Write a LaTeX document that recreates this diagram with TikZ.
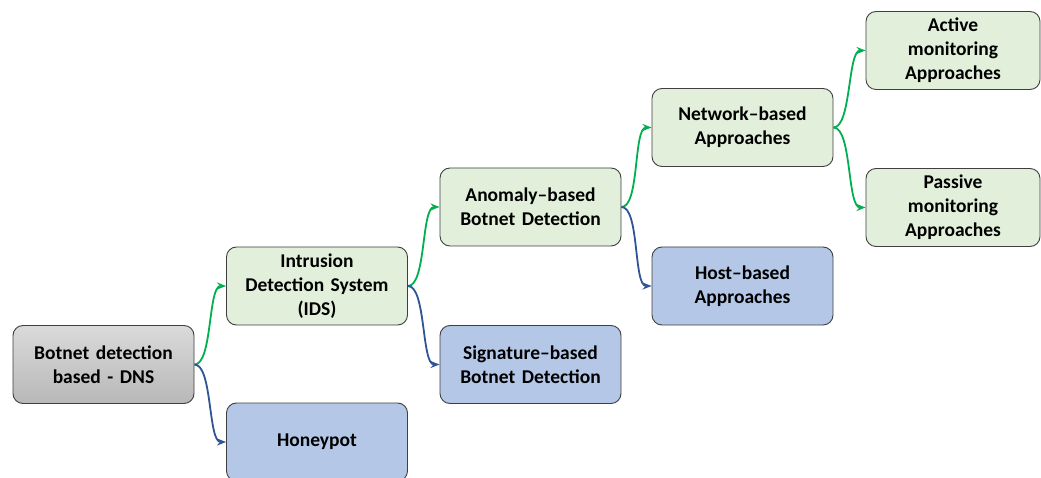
\documentclass[tikz,border=0pt]{standalone}
\usepackage{fontspec}
\setmainfont{Carlito}
\usetikzlibrary{arrows.meta}
\definecolor{boxline}{HTML}{3F3F3F}
\definecolor{greenfill}{HTML}{E2EFDA}
\definecolor{bluefill}{HTML}{B4C7E7}
\definecolor{greyTop}{HTML}{DADADA}
\definecolor{greyBot}{HTML}{B8B8B8}
\definecolor{greenarrow}{HTML}{00B050}
\definecolor{bluearrow}{HTML}{2F5597}
\tikzset{
  box/.style={draw=boxline, line width=0.9pt, rounded corners=10pt,
    minimum width=181pt, minimum height=78pt, align=center,
    font=\fontsize{19.5}{24}\selectfont\bfseries, text width=175pt, inner sep=0pt},
  greenbox/.style={box, fill=greenfill},
  bluebox/.style={box, fill=bluefill},
  greybox/.style={box, top color=greyTop, bottom color=greyBot},
  link/.style={line width=1.8pt, -{Stealth[length=9pt,width=7pt]}, out=0, in=180, looseness=0.55},
  yes/.style={link, draw=greenarrow},
  no/.style={link, draw=bluearrow}
}
\begin{document}
\begin{tikzpicture}[x=1pt,y=-1pt]
\useasboundingbox (0,0) rectangle (1041,478);
\clip (0,0) rectangle (1041,478);
\fill[white] (0,0) rectangle (1041,478);

\node[greybox]  (dns)  at (103.5,364.5) {Botnet detection\\based - DNS};
\node[greenbox] (ids)  at (317,286)     {Intrusion\\Detection System\\(IDS)};
\node[bluebox]  (hp)   at (317,442)     {Honeypot};
\node[greenbox] (anom) at (530.5,207)   {Anomaly--based\\Botnet Detection};
\node[bluebox]  (sig)  at (530.5,364.5) {Signature--based\\Botnet Detection};
\node[greenbox] (net)  at (742.5,127.5) {Network--based\\Approaches};
\node[bluebox]  (host) at (742.5,286)   {Host--based\\Approaches};
\node[greenbox, minimum width=174pt, text width=165pt] (act)  at (953,50.5)  {Active\\monitoring\\Approaches};
\node[greenbox, minimum width=174pt, text width=165pt] (pas)  at (953,207.5) {Passive\\monitoring\\Approaches};

\draw[yes] (dns.east)  to (ids.west);
\draw[no]  (dns.east)  to (hp.west);
\draw[yes] (ids.east)  to (anom.west);
\draw[no]  (ids.east)  to (sig.west);
\draw[yes] (anom.east) to (net.west);
\draw[no]  (anom.east) to (host.west);
\draw[yes] (net.east)  to (act.west);
\draw[yes] (net.east)  to (pas.west);
\end{tikzpicture}
\end{document}
